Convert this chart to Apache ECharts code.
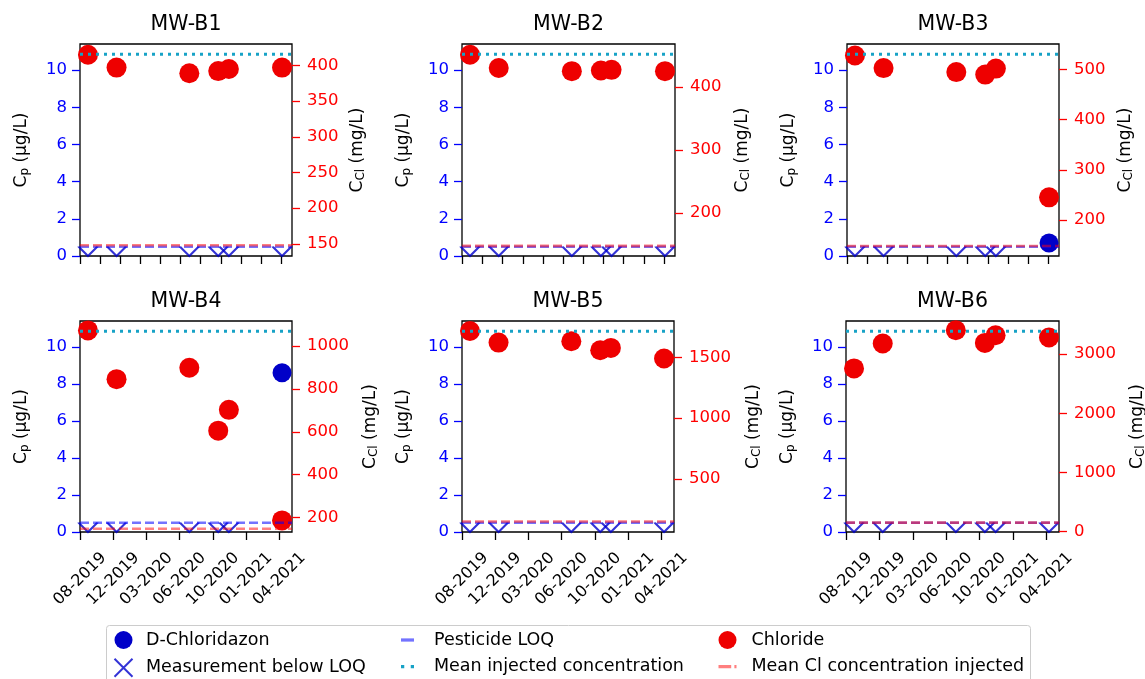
<!DOCTYPE html>
<html>
<head>
<meta charset="utf-8">
<script src="https://cdn.jsdelivr.net/npm/echarts@6/dist/echarts.min.js"></script>
<style>
  html, body { margin: 0; padding: 0; background: #fff; }
  #chart { width: 1145px; height: 679px; }
</style>
</head>
<body>
<div id="chart"></div>
<script>
/* data */
const WELLS = ['MW-B1', 'MW-B2', 'MW-B3', 'MW-B4', 'MW-B5', 'MW-B6'];
const SAMPLE_DAYS = [24, 110, 329, 416, 448, 608];   // days after 08-2019

const CHLORIDE_B1 = [415, 397, 389, 392, 395, 397];
const CHLORIDE_B2 = [451, 430, 425, 426, 427, 425];
const CHLORIDE_B3 = [528, 503, 495, 490, 502, 245];
const CHLORIDE_B4 = [1072, 845, 898, 605, 702, 187];
const CHLORIDE_B5 = [1719, 1623, 1634, 1560, 1579, 1492];
const CHLORIDE_B6 = [2759, 3181, 3405, 3191, 3321, 3282];

// null = below LOQ
const PESTICIDE_B1 = [null, null, null, null, null, null];
const PESTICIDE_B2 = [null, null, null, null, null, null];
const PESTICIDE_B3 = [null, null, null, null, null, 0.7];
const PESTICIDE_B4 = [null, null, null, null, null, 8.6];
const PESTICIDE_B5 = [null, null, null, null, null, null];
const PESTICIDE_B6 = [null, null, null, null, null, null];

const PESTICIDE_LOQ = 0.5;
const MEAN_INJECTED = 10.85;
const MEAN_CL_INJECTED = 148;

const X_RANGE = [0, 638];
const CP_RANGE = [0, 11.4];
const CL_RANGES = [[133, 430], [132, 468], [128, 551], [133, 1116], [62, 1801], [-10, 3562]];

const CP_TICKS = [0, 2, 4, 6, 8, 10];
const CL_TICKS = [
  [150, 200, 250, 300, 350, 400],
  [200, 300, 400],
  [200, 300, 400, 500],
  [200, 400, 600, 800, 1000],
  [500, 1000, 1500],
  [0, 1000, 2000, 3000]
];
const DATE_TICKS = [0, 100, 200, 300, 400, 500, 600];
const DATE_LABELS = ['08-2019', '12-2019', '03-2020', '06-2020', '10-2020', '01-2021', '04-2021'];
const MONTH_TICKS = [0, 61, 121, 182, 242, 303, 363, 424, 484, 545, 605];

const chloride = [CHLORIDE_B1, CHLORIDE_B2, CHLORIDE_B3, CHLORIDE_B4, CHLORIDE_B5, CHLORIDE_B6];
const pesticide = [PESTICIDE_B1, PESTICIDE_B2, PESTICIDE_B3, PESTICIDE_B4, PESTICIDE_B5, PESTICIDE_B6];

/* layout */
const FONT = 'DejaVu Sans';
const PANELS = [
  [80, 44, 212, 212], [462, 44, 213, 212], [847, 44, 212, 212],
  [80, 321, 212, 211], [462, 321, 212, 211], [846, 321, 213, 211]
];
const CL_NAME_GAP = [56, 58, 57, 69, 70, 69];

const nameRich = {
  c: { fontSize: 17, fontFamily: FONT, color: '#000' },
  s: { fontSize: 12, fontFamily: FONT, color: '#000', padding: [7, 0, 0, 0] }
};
const LOQ_BLUE = 'rgba(0,0,255,0.55)';
const CL_SALMON = 'rgba(255,0,0,0.5)';
const TEAL = '#17a2c6';

const grid = [], xAxis = [], yAxis = [], series = [], graphic = [];

WELLS.forEach((well, i) => {
  const [left, top, width, height] = PANELS[i];
  const bottomRow = i >= 3;

  grid.push({
    left, top, width, height,
    show: true, borderColor: '#000', borderWidth: 1.3,
    outerBoundsMode: 'none'
  });

  xAxis.push({
    type: 'value', gridIndex: i, min: X_RANGE[0], max: X_RANGE[1],
    axisLine: { show: false },
    splitLine: { show: false },
    axisTick: {
      show: true, length: 8,
      customValues: bottomRow ? DATE_TICKS : MONTH_TICKS,
      lineStyle: { color: '#000', width: 1.3 }
    },
    axisLabel: {
      show: bottomRow,
      customValues: DATE_TICKS,
      formatter: v => DATE_LABELS[DATE_TICKS.indexOf(v)] || '',
      rotate: 45, align: 'center', verticalAlign: 'middle', margin: 47,
      fontSize: 16, fontFamily: FONT, color: '#000'
    }
  });

  yAxis.push({
    type: 'value', gridIndex: i, position: 'left',
    min: CP_RANGE[0], max: CP_RANGE[1],
    axisLine: { show: false },
    splitLine: { show: false },
    axisTick: { show: true, length: 8, customValues: CP_TICKS, lineStyle: { color: '#0000ff', width: 1.3 } },
    axisLabel: {
      customValues: CP_TICKS, formatter: v => String(v),
      margin: 13, fontSize: 16.5, fontFamily: FONT, color: '#0000ff'
    },
    name: '{c|C}{s|p}{c| (µg/L)}',
    nameLocation: 'middle', nameGap: 49, nameMoveOverlap: false,
    nameTextStyle: { rich: nameRich }
  });

  yAxis.push({
    type: 'value', gridIndex: i, position: 'right',
    min: CL_RANGES[i][0], max: CL_RANGES[i][1],
    axisLine: { show: false },
    splitLine: { show: false },
    axisTick: { show: true, length: 8, customValues: CL_TICKS[i], lineStyle: { color: '#ff0000', width: 1.3 } },
    axisLabel: {
      customValues: CL_TICKS[i], formatter: v => String(v),
      margin: 15, fontSize: 16.5, fontFamily: FONT, color: '#ff0000'
    },
    name: '{c|C}{s|Cl}{c| (mg/L)}',
    nameLocation: 'middle', nameGap: CL_NAME_GAP[i], nameMoveOverlap: false,
    nameTextStyle: { rich: nameRich }
  });

  const cpAxis = 2 * i, clAxis = 2 * i + 1;

  series.push({
    name: 'Pesticide LOQ', type: 'line', xAxisIndex: i, yAxisIndex: cpAxis,
    data: [[X_RANGE[0], PESTICIDE_LOQ], [X_RANGE[1], PESTICIDE_LOQ]],
    symbol: 'none', silent: true,
    itemStyle: { color: LOQ_BLUE },
    lineStyle: { color: LOQ_BLUE, width: 2.6, type: [9, 4] }
  });
  series.push({
    name: 'Mean injected concentration', type: 'line', xAxisIndex: i, yAxisIndex: cpAxis,
    data: [[X_RANGE[0], MEAN_INJECTED], [X_RANGE[1], MEAN_INJECTED]],
    symbol: 'none', silent: true,
    itemStyle: { color: TEAL },
    lineStyle: { color: TEAL, width: 3, type: [3, 5] }
  });
  series.push({
    name: 'Measurement below LOQ', type: 'scatter', xAxisIndex: i, yAxisIndex: cpAxis,
    data: SAMPLE_DAYS.map((d, k) => pesticide[i][k] === null ? [d, 0] : null).filter(Boolean),
    symbol: 'path://M0,0 L10,10 L20,0',
    symbolSize: [19, 9.5], symbolOffset: [0, -4.75],
    itemStyle: { color: 'rgba(0,0,0,0)', borderColor: '#0000cc', borderWidth: 2 }
  });
  series.push({
    name: 'D-Chloridazon', type: 'scatter', xAxisIndex: i, yAxisIndex: cpAxis,
    data: SAMPLE_DAYS.map((d, k) => pesticide[i][k] !== null ? [d, pesticide[i][k]] : null).filter(Boolean),
    symbol: 'circle', symbolSize: 19,
    itemStyle: { color: '#0000c8', opacity: 1 }
  });
  series.push({
    name: 'Mean Cl concentration injected', type: 'line', xAxisIndex: i, yAxisIndex: clAxis,
    data: [[X_RANGE[0], MEAN_CL_INJECTED], [X_RANGE[1], MEAN_CL_INJECTED]],
    symbol: 'none', silent: true,
    itemStyle: { color: CL_SALMON },
    lineStyle: { color: CL_SALMON, width: 2.6, type: [9, 4] }
  });
  series.push({
    name: 'Chloride', type: 'scatter', xAxisIndex: i, yAxisIndex: clAxis,
    data: SAMPLE_DAYS.map((d, k) => [d, chloride[i][k]]),
    symbol: 'circle', symbolSize: 20,
    itemStyle: { color: '#ee0000', opacity: 1 }
  });

  graphic.push({
    type: 'text', x: left + width / 2, y: top - 19.5,
    style: { text: well, fontSize: 20.5, fontFamily: FONT, fill: '#000', align: 'center', verticalAlign: 'middle' }
  });
});

// legend frame
graphic.push({
  type: 'rect', z: -1,
  shape: { x: 106.5, y: 625.5, width: 924, height: 60, r: 3 },
  style: { fill: '#fff', stroke: '#cccccc', lineWidth: 1 }
});

const legendText = pad => ({ fontSize: 17.5, fontFamily: FONT, color: '#000', padding: [0, 0, 0, pad] });
const legend = [
  {
    orient: 'vertical', left: 113.5, top: 631, padding: 0,
    itemWidth: 18, itemHeight: 18, itemGap: 8.7,
    textStyle: legendText(8.5),
    data: [
      { name: 'D-Chloridazon', icon: 'circle' },
      { name: 'Measurement below LOQ', icon: 'path://M0,0 L10,10 M10,0 L0,10' }
    ]
  },
  {
    orient: 'vertical', left: 401, top: 631, padding: 0,
    itemWidth: 13, itemHeight: 18, itemGap: 8.7,
    textStyle: legendText(15),
    data: [
      { name: 'Pesticide LOQ', icon: 'path://M0,0 L12,0 L12,3 L0,3 Z' },
      { name: 'Mean injected concentration', icon: 'path://M0,0 L3,0 L3,3 L0,3 Z M9,0 L12,0 L12,3 L9,3 Z' }
    ]
  },
  {
    orient: 'vertical', left: 718.5, top: 631, padding: 0,
    itemWidth: 18, itemHeight: 18, itemGap: 8.7,
    textStyle: legendText(10),
    data: [
      { name: 'Chloride', icon: 'circle' },
      { name: 'Mean Cl concentration injected', icon: 'path://M0,0 L12,0 L12,3 L0,3 Z M15,0 L17,0 L17,3 L15,3 Z' }
    ]
  }
];

const chart = echarts.init(document.getElementById('chart'), null, { renderer: 'canvas' });
chart.setOption({
  backgroundColor: '#fff',
  animation: false,
  textStyle: { fontFamily: FONT },
  grid, xAxis, yAxis, series, legend, graphic
});
</script>
</body>
</html>
